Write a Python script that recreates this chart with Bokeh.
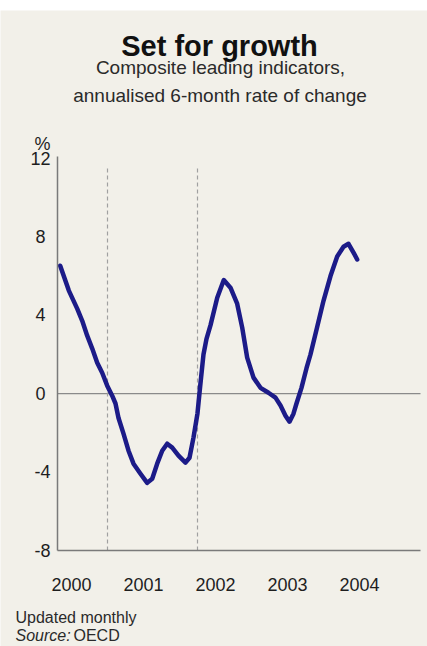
from bokeh.plotting import figure
from bokeh.models import Label, FixedTicker
from bokeh.embed import file_html
from bokeh.resources import INLINE

# ---- data ----
years = [1999.843, 1999.963, 2000.079, 2000.149, 2000.218, 2000.288, 2000.357,
         2000.426, 2000.496, 2000.565, 2000.611, 2000.653, 2000.722, 2000.792,
         2000.861, 2000.958, 2001.051, 2001.121, 2001.190, 2001.260, 2001.329,
         2001.399, 2001.486, 2001.583, 2001.639, 2001.694, 2001.750, 2001.785,
         2001.833, 2001.875, 2001.931, 2002.024, 2002.115, 2002.208, 2002.301,
         2002.371, 2002.440, 2002.528, 2002.625, 2002.736, 2002.833, 2002.903,
         2002.972, 2003.028, 2003.083, 2003.125, 2003.194, 2003.264, 2003.319,
         2003.412, 2003.500, 2003.597, 2003.690, 2003.778, 2003.847, 2003.917,
         2003.968]
cli_change = [6.53, 5.26, 4.34, 3.72, 2.96, 2.30, 1.58,
              1.07, 0.41, -0.10, -0.50, -1.24, -2.04, -2.91,
              -3.57, -4.08, -4.55, -4.34, -3.57, -2.91, -2.55,
              -2.75, -3.16, -3.52, -3.27, -2.24, -1.00, 0.30,
              2.00, 2.80, 3.50, 4.90, 5.80, 5.41, 4.59,
              3.37, 1.84, 0.82, 0.30, 0.05, -0.20, -0.60,
              -1.12, -1.43, -1.02, -0.50, 0.30, 1.30, 2.00,
              3.40, 4.74, 6.00, 7.00, 7.50, 7.65, 7.20,
              6.85]
dashed_marks = [2000.5, 2001.75]
dashed_top = 11.64
x_ticks = [2000, 2001, 2002, 2003, 2004]
x_tick_labels = ["2000", "2001", "2002", "2003", "2004"]
y_ticks = [-8, -4, 0, 4, 8, 12]
y_tick_labels = ["-8", "-4", "0\u2008", "4\u2008", "8\u2008", "12"]
x_axis_span = (1999.8056, 2004.847)   # extent of the drawn x axis
y_axis_span = (-8, 12.1)              # extent of the drawn y axis

title = "Set for growth"
subtitle1 = "Composite leading indicators,"
subtitle2 = "annualised 6-month rate of change"
unit_label = "%"
note1 = "Updated monthly"
source_italic = "Source:"
source_name = "OECD"

BG = "#f2f0e9"
FONT = "Liberation Sans"
W, H, TOP = 427, 646, 10

# pixel scale of the chart: 72 px per year (2000 at x=71), 19.6 px per unit (0 at y=393.2)
PX_YEAR, X0_PX, PX_UNIT, Y0_PX = 72.0, 71.0, 19.6, 393.2


def to_data(px, py):
    return 2000 + (px - X0_PX) / PX_YEAR, (Y0_PX - py) / PX_UNIT


x_lo, _ = to_data(0, 0)
x_hi, _ = to_data(W, 0)
_, y_hi = to_data(0, TOP)
_, y_lo = to_data(0, H)

p = figure(width=W, height=H, output_backend="svg", toolbar_location=None,
           x_range=(x_lo, x_hi), y_range=(y_lo, y_hi),
           min_border_left=0, min_border_right=0, min_border_top=TOP,
           min_border_bottom=0)
p.background_fill_color = BG
p.border_fill_color = "white"
p.outline_line_color = None
p.xgrid.visible = False
p.ygrid.visible = False

for ax in (p.xaxis[0], p.yaxis[0]):
    ax.axis_line_color = "#7a7a7a"
    ax.axis_line_width = 1.5
    ax.major_tick_line_color = None
    ax.minor_tick_line_color = None
    ax.major_tick_out = 0
    ax.major_tick_in = 0
    ax.major_label_text_font = FONT
    ax.major_label_text_font_size = "18px"
    ax.major_label_text_color = "#1e1e1e"

p.xaxis.ticker = FixedTicker(ticks=x_ticks)
p.xaxis.major_label_overrides = {t: l for t, l in zip(x_ticks, x_tick_labels)}
p.xaxis.major_label_standoff = 27
p.xaxis.fixed_location = y_axis_span[0]
p.xaxis.bounds = x_axis_span

p.yaxis.ticker = FixedTicker(ticks=y_ticks)
p.yaxis.major_label_overrides = {t: l for t, l in zip(y_ticks, y_tick_labels)}
p.yaxis.major_label_standoff = 7
p.yaxis.fixed_location = x_axis_span[0]
p.yaxis.bounds = y_axis_span

# zero line
p.segment(x0=[x_axis_span[0]], x1=[x_axis_span[1]], y0=[0], y1=[0],
          line_color="#8a8a8a", line_width=1.2)

# dashed verticals
p.segment(x0=dashed_marks, x1=dashed_marks, y0=[y_axis_span[0]] * len(dashed_marks),
          y1=[dashed_top] * len(dashed_marks), line_color="#a0a0a0", line_width=1.2,
          line_dash="4 3")

# main curve
p.line(years, cli_change, line_color="#1c1b88", line_width=4.5,
       line_join="round", line_cap="round")


def lab(px, py, text, size, align="left", style="normal", color="#1e1e1e"):
    x, y = to_data(px, py)
    p.add_layout(Label(x=x, y=y, text=text, text_font=FONT, text_font_size=size,
                       text_align=align, text_baseline="alphabetic",
                       text_font_style=style, text_color=color))


lab(219, 45.7, title, "29px", "center", "bold", "#111111")
lab(220, 66.7, subtitle1, "19px", "center", "normal", "#2a2a2a")
lab(219.5, 95, subtitle2, "19px", "center", "normal", "#2a2a2a")
lab(50, 143, unit_label, "18px", "right")
lab(15, 617, note1, "16px", "left", "normal", "#2a2a2a")
lab(15, 635, source_italic, "16px", "left", "italic", "#2a2a2a")
lab(73, 635, source_name, "16px", "left", "normal", "#2a2a2a")

open("out.html", "w").write(file_html(p, INLINE))
